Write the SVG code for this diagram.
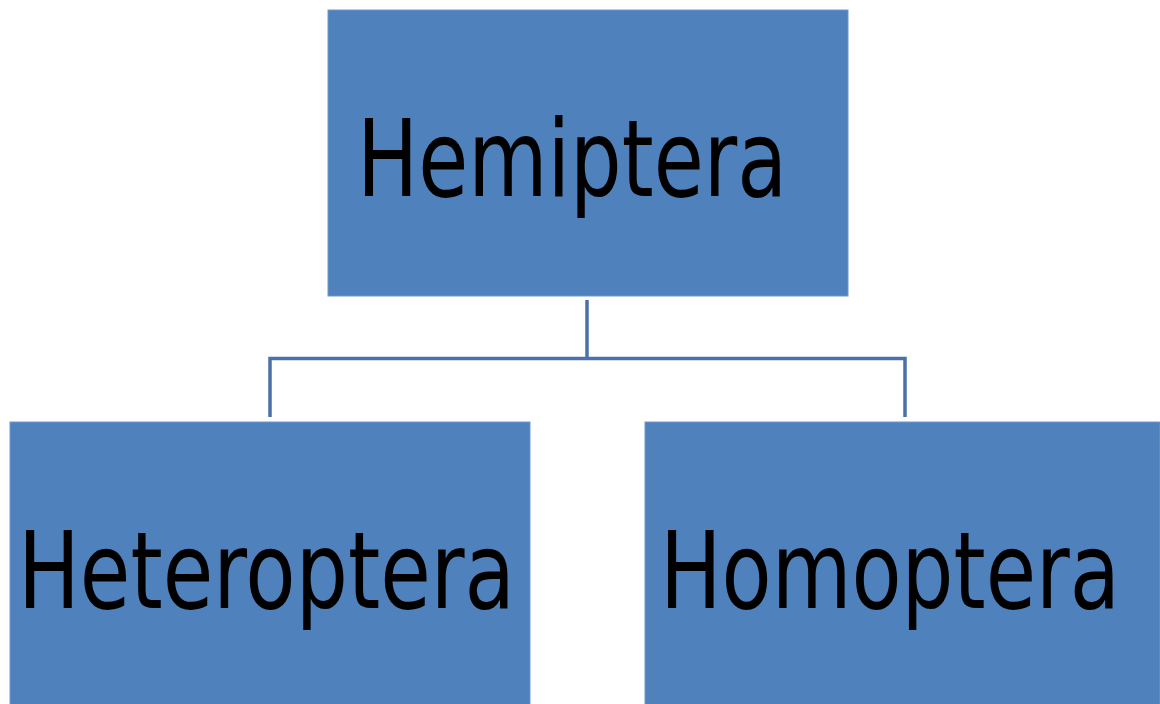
<svg xmlns="http://www.w3.org/2000/svg" width="1160" height="704" viewBox="0 0 1160 704">
<style>
.box{fill:#4f81bd;stroke:#6f97c9;stroke-width:1}
.lbl{font-family:"DejaVu Sans",Verdana,sans-serif;font-size:107px;fill:#000}
.conn{fill:none;stroke:#4a72a8;stroke-width:3.5}
</style>
<rect width="1160" height="704" fill="#fff"/>
<g id="connectors">
<path class="conn" d="M587,300 V358.5 M270,417 V358.5 H905 V417"/>
</g>
<g id="hemiptera">
<rect class="box" x="328" y="10" width="520" height="286"/>
<text class="lbl" x="357" y="196" textLength="430" lengthAdjust="spacingAndGlyphs">Hemiptera</text>
</g>
<g id="heteroptera">
<rect class="box" x="10" y="422" width="520" height="290"/>
<text class="lbl" x="18" y="608" textLength="497" lengthAdjust="spacingAndGlyphs">Heteroptera</text>
</g>
<g id="homoptera">
<rect class="box" x="645" y="422" width="515" height="290"/>
<text class="lbl" x="660" y="608" textLength="460" lengthAdjust="spacingAndGlyphs">Homoptera</text>
</g>
</svg>
